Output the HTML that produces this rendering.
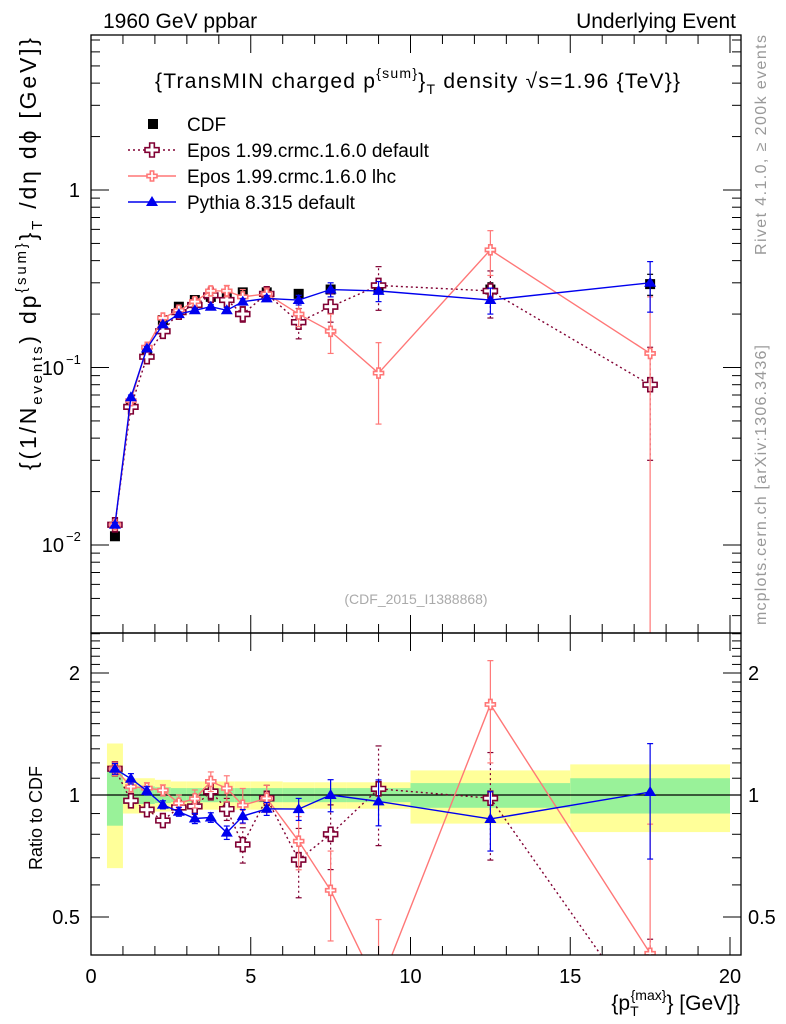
<!DOCTYPE html>
<html><head><meta charset="utf-8"><style>
body{margin:0;background:#fff;overflow:hidden;width:786px;height:1024px;}
svg{display:block;}
svg text{font-family:"Liberation Sans",sans-serif;}
</style></head><body>
<svg id="c" width="786" height="1024" xmlns="http://www.w3.org/2000/svg"></svg>
<script>
const xs=[0.75,1.25,1.75,2.25,2.75,3.25,3.75,4.25,4.75,5.5,6.5,7.5,9,12.5,17.5];
const cdf=[0.0112,0.062,0.125,0.185,0.22,0.24,0.25,0.26,0.265,0.265,0.26,0.275,0.28,0.275,0.295];
const cdfErr=[0.0005,0.003,0.005,0.007,0.008,0.009,0.01,0.011,0.012,0.012,0.013,0.014,0.018,0.025,0.04];
const pythia=[0.013,0.068,0.128,0.175,0.2,0.21,0.22,0.21,0.235,0.245,0.24,0.275,0.27,0.24,0.3];
const pythiaErr=[0.0004,0.002,0.003,0.004,0.005,0.006,0.006,0.008,0.009,0.009,0.015,0.025,0.035,0.04,0.095];
const eposDef=[0.013,0.06,0.115,0.16,0.205,0.225,0.255,0.24,0.2,0.26,0.18,0.22,0.29,0.27,0.08];
const eposDefErr=[0.0005,0.002,0.004,0.005,0.008,0.01,0.012,0.015,0.02,0.02,0.035,0.04,0.08,0.08,0.05];
const eposLhc=[0.013,0.065,0.13,0.19,0.21,0.235,0.27,0.27,0.25,0.26,0.2,0.16,0.093,0.46,0.12];
const eposLhcErr=[0.0005,0.002,0.004,0.006,0.01,0.012,0.015,0.02,0.025,0.02,0.03,0.04,0.045,0.13,0.13];
const binEdges=[0.5,1,1.5,2,2.5,3,3.5,4,4.5,5,6,7,8,10,15,20];
const bandYellow=[0.34,0.1,0.1,0.09,0.08,0.08,0.08,0.08,0.08,0.08,0.075,0.075,0.075,0.15,0.19];
const bandGreen=[0.16,0.05,0.05,0.045,0.04,0.04,0.04,0.04,0.04,0.04,0.04,0.04,0.04,0.07,0.1];
const ratioTicks=[0.5,1,2];

const NS="http://www.w3.org/2000/svg";
const svg=document.getElementById('c');
const L=91,R=741,T=35,MB=633,RB=955;
const X=v=>91+v*31.95;
const YM=v=>190-Math.log10(v)*177.5;
const YR=v=>795-Math.log2(v)*122;
function el(tag,attrs,parent){const e=document.createElementNS(NS,tag);for(const k in attrs)e.setAttribute(k,attrs[k]);(parent||svg).appendChild(e);return e;}
function txt(s,x,y,size,anchor,fill,parent){const t=el('text',{x:x,y:y,'font-size':size,'text-anchor':anchor||'start',fill:fill||'#000'},parent);t.textContent=s;return t;}
const defs=el('defs',{});
const c1=el('clipPath',{id:'cm'},defs);el('rect',{x:L,y:T,width:R-L,height:MB-T},c1);
const c2=el('clipPath',{id:'cr'},defs);el('rect',{x:L,y:MB,width:R-L,height:RB-MB},c2);
const gm=el('g',{'clip-path':'url(#cm)'});
const gr=el('g',{'clip-path':'url(#cr)'});

for(let i=0;i<bandYellow.length;i++){
 const x0=X(binEdges[i]),x1=X(binEdges[i+1]);
 const y=el('rect',{x:x0,y:YR(1+bandYellow[i]),width:x1-x0,height:YR(1-bandYellow[i])-YR(1+bandYellow[i]),fill:'#ffff99'},gr);
 
 const g=el('rect',{x:x0,y:YR(1+bandGreen[i]),width:x1-x0,height:YR(1-bandGreen[i])-YR(1+bandGreen[i]),fill:'#99f299'},gr);
 
}
el('line',{x1:L,x2:R,y1:YR(1),y2:YR(1),stroke:'#000','stroke-width':1.2},gr);

function cross(x,y,s,col,fill,g){const a=s/3;return el('path',{d:`M${x-a},${y-s}h${2*a}v${2*a}h${2*a}v${2*a}h${-2*a}v${2*a}h${-2*a}v${-2*a}h${-2*a}v${-2*a}h${2*a}z`,fill:fill,stroke:col,'stroke-width':1.6},g);}
function series(vals,errs,col,dash,marker,name){
 [[gm,YM,vals,errs],[gr,YR,vals.map((v,i)=>v/cdf[i]),errs.map((e,i)=>e/cdf[i])]].forEach(([g,Y,v,e],pi)=>{
  if(name==='cdf'&&pi===1)return;
  const pts=xs.map((x,i)=>X(x)+','+Y(v[i])).join(' ');
  if(name!=='cdf'){const p=el('polyline',{points:pts,fill:'none',stroke:col,'stroke-width':1.4,'stroke-dasharray':dash||''},g);
   }
  xs.forEach((x,i)=>{
   const lo=Math.max(v[i]-e[i],1e-4),hi=v[i]+e[i];
   el('line',{x1:X(x),x2:X(x),y1:Y(lo),y2:Y(hi),stroke:col,'stroke-width':1.2,'stroke-dasharray':dash||''},g);
   el('line',{x1:X(x)-3,x2:X(x)+3,y1:Y(hi),y2:Y(hi),stroke:col,'stroke-width':1.2},g);
   el('line',{x1:X(x)-3,x2:X(x)+3,y1:Y(lo),y2:Y(lo),stroke:col,'stroke-width':1.2},g);
   let m;
   if(marker==='sq') m=el('rect',{x:X(x)-5,y:Y(v[i])-5,width:10,height:10,fill:'#000'},g);
   else if(marker==='tri') m=el('path',{d:`M${X(x)},${Y(v[i])-6}l6,10h-12z`,fill:col},g);
   else if(marker==='crossBig') m=cross(X(x),Y(v[i]),7,col,'#fff',g);
   else m=cross(X(x),Y(v[i]),5,col,'#fff',g);
   
  });
 });
}
series(cdf,cdfErr,'#000','','sq','cdf');
series(eposDef,eposDefErr,'#800033','2,3','crossBig','epos-default');
series(eposLhc,eposLhcErr,'#ff7777','','crossSmall','epos-lhc');
series(pythia,pythiaErr,'#0000ee','','tri','pythia');

el('rect',{x:L,y:T,width:R-L,height:MB-T,fill:'none',stroke:'#000','stroke-width':1.3});
el('rect',{x:L,y:MB,width:R-L,height:RB-MB,fill:'none',stroke:'#000','stroke-width':1.3});
for(let v=0;v<=20.01;v+=1){const maj=v%5===0;const len=maj?18:9;
 [[T,1],[MB,1],[MB,-1],[RB,-1]].forEach(([y,d])=>{ if(X(v)>=R)return; el('line',{x1:X(v),x2:X(v),y1:y,y2:y+d*len,stroke:'#000'});});
 if(maj)txt(String(v),X(v),983,20,'middle');}
for(let d=-3;d<=0;d++)for(let k=1;k<10;k++){const v=k*Math.pow(10,d);const y=YM(v);if(y<T||y>MB)continue;
 const len=k===1?18:9;el('line',{x1:L,x2:L+len,y1:y,y2:y,stroke:'#000'});el('line',{x1:R,x2:R-len,y1:y,y2:y,stroke:'#000'});}
txt('1',80,197,20,'end');
txt('10',64,375,20,'end');txt('−1',66,364,13);
txt('10',64,552,20,'end');txt('−2',66,541,13);
for(let v=0.4;v<2.6;v+=0.1){const y=YR(v);if(y<MB||y>RB)continue;const maj=ratioTicks.some(r=>Math.abs(r-v)<1e-6);const len=maj?18:9;
 el('line',{x1:L,x2:L+len,y1:y,y2:y,stroke:'#000'});el('line',{x1:R,x2:R-len,y1:y,y2:y,stroke:'#000'});}
ratioTicks.forEach(r=>{txt(String(r),80,YR(r)+7,20,'end');txt(String(r),748,YR(r)+7,20,'start');});
const h1=txt('1960 GeV ppbar',103,28,21);
const h2=txt('Underlying Event',736,28,21,'end');
const title=el('text',{x:155,y:88,'font-size':21,textLength:525,lengthAdjust:'spacing'});
title.innerHTML='{TransMIN charged p<tspan dy="-10" font-size="14">{sum}</tspan><tspan dy="10">}</tspan><tspan dy="6" font-size="14">T</tspan><tspan dy="-6"> density √s=1.96 {TeV}}</tspan>';

txt('(CDF_2015_I1388868)',416,604,14,'middle','#aaa');
const yl=el('text',{transform:'translate(36,470) rotate(-90)','font-size':23,textLength:432,lengthAdjust:'spacing'});
yl.innerHTML='{(1/N<tspan dy="6" font-size="15">events</tspan><tspan dy="-6">) dp</tspan><tspan dy="-10" font-size="15">{sum}</tspan><tspan dy="10">}</tspan><tspan dy="6" font-size="15">T</tspan><tspan dy="-6"> /dη  dϕ [GeV]}</tspan>';

const rl=txt('Ratio to CDF',0,0,18);rl.setAttribute('transform','translate(42,870) rotate(-90)');
const xl=el('text',{x:740,y:1010,'font-size':21,'text-anchor':'end'});
xl.innerHTML='{p<tspan dy="6" font-size="14">T</tspan><tspan dy="-16" font-size="14" dx="-8">{max}</tspan><tspan dy="10">} [GeV]}</tspan>';

const r1=txt('Rivet 4.1.0, ≥ 200k events',0,0,16,'start','#999');r1.setAttribute('transform','translate(766,255) rotate(-90)');r1.setAttribute('textLength','220');
const r2=txt('mcplots.cern.ch [arXiv:1306.3436]',0,0,16,'start','#999');r2.setAttribute('transform','translate(766,625) rotate(-90)');r2.setAttribute('textLength','280');
const lg=el('g',{});
el('rect',{x:148,y:119,width:10,height:10,fill:'#000'},lg);txt('CDF',187,131,19,'start','#000',lg);
el('line',{x1:128,x2:176,y1:150,y2:150,stroke:'#800033','stroke-dasharray':'2,3','stroke-width':1.4},lg);cross(152,150,7,'#800033','#fff',lg);txt('Epos 1.99.crmc.1.6.0 default',187,157,19,'start','#000',lg);
el('line',{x1:128,x2:176,y1:176,y2:176,stroke:'#ff7777','stroke-width':1.4},lg);cross(152,176,5,'#ff7777','#fff',lg);txt('Epos 1.99.crmc.1.6.0 lhc',187,183,19,'start','#000',lg);
el('line',{x1:128,x2:176,y1:202,y2:202,stroke:'#0000ee','stroke-width':1.4},lg);el('path',{d:'M152,196l6,10h-12z',fill:'#0000ee'},lg);txt('Pythia 8.315 default',187,209,19,'start','#000',lg);
</script>
</body></html>
